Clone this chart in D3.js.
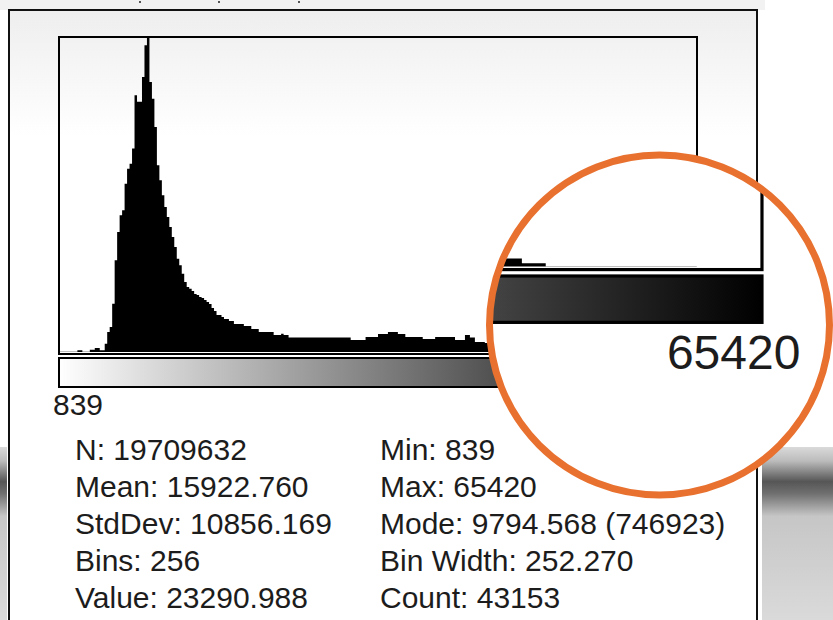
<!DOCTYPE html>
<html>
<head>
<meta charset="utf-8">
<script src="https://cdn.jsdelivr.net/npm/d3@7"></script>
<style>
  body { margin: 0; background: #fff; }
  svg { display: block; }
  .stat { font-family: "Liberation Sans", Arial, sans-serif; font-size: 30px; fill: #1c1c1c; }
</style>
</head>
<body>
<script>
"use strict";

/***** Data *****/
var histMin = 839;
var histMax = 65420;
var binWidth = 252.270;

// counts per bin (256 bins)
var binCounts = [
  700, 700, 700, 700, 700, 700, 700, 4000, 4000, 800, 800, 800, 5500, 5500, 9500, 9500,
  4000, 4000, 19800, 47600, 59500, 115000, 218000, 285500, 325000, 337000, 400000, 436000, 448000, 484000, 610500, 595000,
  595000, 654000, 729600, 746923, 642000, 602600, 535000, 444000, 408400, 372700, 345000, 321000, 297400, 273600, 249800, 222000,
  206200, 186300, 166500, 154600, 150600, 145100, 138000, 135600, 130800, 128500, 123700, 119000, 114200, 104700, 97500, 88000,
  88000, 83300, 78500, 78500, 73700, 73700, 66600, 66600, 66600, 66600, 61900, 61900, 61900, 54700, 54700, 54700,
  47600, 47600, 47600, 47600, 47600, 47600, 40400, 40400, 40400, 43153, 40400, 40400, 34500, 34500, 34500, 34500,
  34500, 34500, 34500, 34500, 34500, 34500, 34500, 34500, 34500, 34500, 34500, 34500, 34500, 34500, 34500, 34500,
  34500, 34500, 34500, 34500, 34500, 28500, 28500, 28500, 28500, 28500, 28500, 35700, 35700, 35700, 35700, 35700,
  42800, 42800, 42800, 42800, 47600, 47600, 47600, 47600, 42800, 42800, 42800, 35700, 35700, 35700, 35700, 35700,
  35700, 35700, 30900, 30900, 30900, 30900, 30900, 35700, 35700, 35700, 35700, 35700, 35700, 35700, 35700, 28500,
  28500, 28500, 28500, 40400, 40400, 34500, 34500, 23800, 23800, 23800, 23800, 21400, 21400, 21400, 21400, 21400,
  19000, 19000, 19000, 19000, 19000, 19000, 19000, 16700, 16700, 16700, 16700, 16700, 16700, 16700, 11900, 11900,
  11900, 11900, 11900, 11900, 4800, 4800, 4800, 4800, 4800, 4800, 120, 120, 120, 120, 120, 120,
  60, 60, 60, 60, 60, 60, 60, 60, 60, 60, 60, 60, 60, 60, 60, 60,
  20, 20, 20, 20, 20, 20, 20, 20, 20, 20, 20, 20, 20, 20, 20, 20,
  5, 5, 5, 5, 5, 5, 5, 5, 5, 5, 5, 5, 5, 5, 5, 5
];

var rangeLabels = ["839", "65420"];
var statsLeft = ["N: 19709632", "Mean: 15922.760", "StdDev: 10856.169", "Bins: 256", "Value: 23290.988"];
var statsRight = ["Min: 839", "Max: 65420", "Mode: 9794.568 (746923)", "Bin Width: 252.270", "Count: 43153"];

/***** Configuration *****/
var width = 833, height = 620;
var win = { left: 9, top: 10, right: 757, bottom: 640 };
var plot = { left: 59, top: 37, right: 697, bottom: 354 };
var lut = { top: 358, bottom: 387 };
var lens = { cx: 659.5, cy: 325, r: 170, k: 1.6, fx: 588.7, fy: 494.7 };

/***** Scales *****/
var x = d3.scaleLinear()
  .domain([histMin, histMin + binCounts.length * binWidth])
  .range([plot.left + 1, plot.right - 1]);
var y = d3.scaleLinear()
  .domain([0, d3.max(binCounts)])
  .range([plot.bottom - 2, plot.top + 1]);

var bins = binCounts.map(function(c, i) { return { x0: histMin + i * binWidth, count: c }; });
bins.push({ x0: histMin + binCounts.length * binWidth, count: binCounts[binCounts.length - 1] });

var area = d3.area()
  .x(function(d) { return x(d.x0); })
  .y0(y(0))
  .y1(function(d) { return y(d.count); })
  .curve(d3.curveStepAfter);

/***** SVG *****/
var svg = d3.select("body").append("svg")
  .attr("width", width)
  .attr("height", height);

var defs = svg.append("defs");

var winGrad = defs.append("linearGradient").attr("id", "winGrad")
  .attr("x1", 0).attr("x2", 0).attr("y1", 0).attr("y2", 1);
winGrad.append("stop").attr("offset", 0).attr("stop-color", "#eeeeee");
winGrad.append("stop").attr("offset", 0.2).attr("stop-color", "#ffffff");

var lutGrad = defs.append("linearGradient").attr("id", "lutGrad");
lutGrad.append("stop").attr("offset", 0).attr("stop-color", "#ffffff");
lutGrad.append("stop").attr("offset", 1).attr("stop-color", "#000000");

var bgGrad = defs.append("linearGradient").attr("id", "bgGrad")
  .attr("x1", 0).attr("x2", 0).attr("y1", 0).attr("y2", 1);
[[0, "#dadada"], [0.08, "#bcbcbc"], [0.2, "#565656"], [0.27, "#707070"], [0.4, "#c6c6c6"], [1, "#dadada"]]
  .forEach(function(s) { bgGrad.append("stop").attr("offset", s[0]).attr("stop-color", s[1]); });

defs.append("clipPath").attr("id", "lensClip")
  .append("circle").attr("cx", lens.cx).attr("cy", lens.cy).attr("r", lens.r);

// things behind the histogram window
svg.append("rect").attr("x", 0).attr("y", 0).attr("width", 765).attr("height", win.top)
  .attr("fill", "#f2f2f2");
[139, 218, 298].forEach(function(px) {
  svg.append("rect").attr("x", px).attr("y", 1).attr("width", 2).attr("height", 2).attr("fill", "#555");
});
svg.append("rect").attr("x", 0).attr("y", 447).attr("width", 7).attr("height", height - 447)
  .attr("fill", "url(#bgGrad)");
svg.append("rect").attr("x", 762).attr("y", 447).attr("width", width - 762).attr("height", height - 447)
  .attr("fill", "url(#bgGrad)");

// frame, histogram and grey ramp (drawn twice: normal and magnified)
function drawPlot(g) {
  g.append("rect")
    .attr("x", win.left).attr("y", win.top)
    .attr("width", win.right - win.left).attr("height", win.bottom - win.top)
    .attr("fill", "url(#winGrad)")
    .attr("stroke", "#111").attr("stroke-width", 2);

  g.append("path")
    .datum(bins)
    .attr("d", area)
    .attr("fill", "#000");

  g.append("rect")
    .attr("x", plot.left).attr("y", plot.top)
    .attr("width", plot.right - plot.left).attr("height", plot.bottom - plot.top)
    .attr("fill", "none")
    .attr("stroke", "#000").attr("stroke-width", 2);

  g.append("rect")
    .attr("x", plot.left).attr("y", lut.top)
    .attr("width", plot.right - plot.left).attr("height", lut.bottom - lut.top)
    .attr("fill", "url(#lutGrad)")
    .attr("stroke", "#000").attr("stroke-width", 2);
}

drawPlot(svg.append("g"));

svg.append("text").attr("class", "stat")
  .attr("x", 53).attr("y", 415)
  .text(rangeLabels[0]);

svg.selectAll("text.left").data(statsLeft).enter().append("text")
  .attr("class", "stat left")
  .attr("x", 75)
  .attr("y", function(d, i) { return 460 + i * 37; })
  .text(function(d) { return d; });

svg.selectAll("text.right").data(statsRight).enter().append("text")
  .attr("class", "stat right")
  .attr("x", 380)
  .attr("y", function(d, i) { return 460 + i * 37; })
  .text(function(d) { return d; });

/***** Magnifier *****/
var lensG = svg.append("g").attr("clip-path", "url(#lensClip)");
lensG.append("rect").attr("x", lens.cx - lens.r).attr("y", lens.cy - lens.r)
  .attr("width", 2 * lens.r).attr("height", 2 * lens.r).attr("fill", "#fff");
var zoomed = lensG.append("g")
  .attr("transform", "translate(" + lens.fx * (1 - lens.k) + "," + lens.fy * (1 - lens.k) + ") scale(" + lens.k + ")");
drawPlot(zoomed);
zoomed.append("text").attr("class", "stat")
  .attr("x", 721).attr("y", 416)
  .attr("text-anchor", "end")
  .text(rangeLabels[1]);

svg.append("circle")
  .attr("cx", lens.cx).attr("cy", lens.cy).attr("r", lens.r)
  .attr("fill", "none")
  .attr("stroke", "#e8712f")
  .attr("stroke-width", 7);
</script>
</body>
</html>
